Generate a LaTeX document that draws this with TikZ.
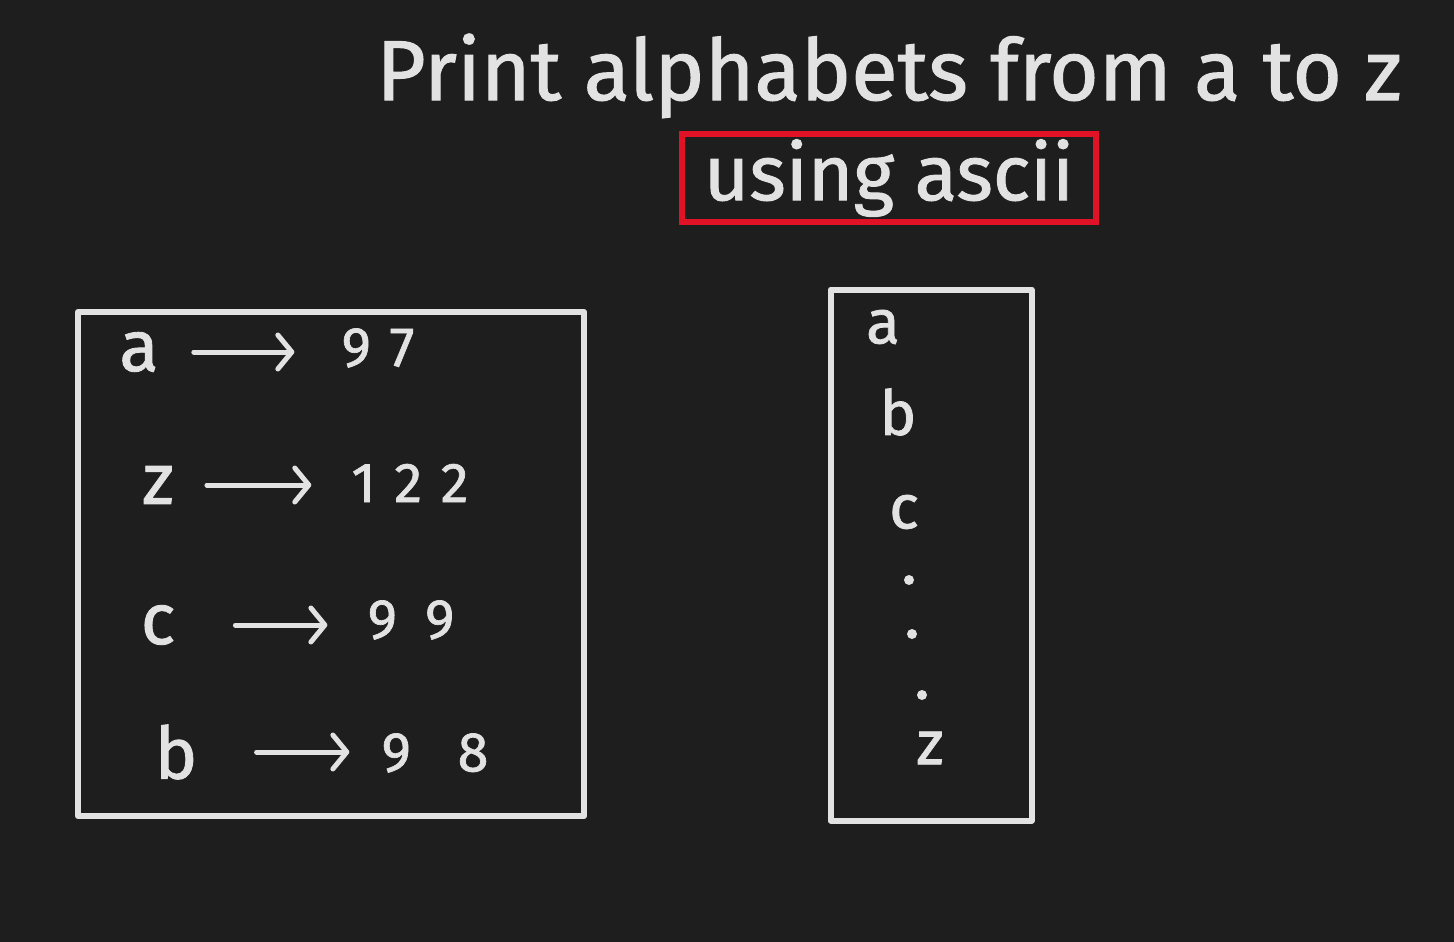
\documentclass[tikz,border=0pt]{standalone}
\usepackage{fontspec}
\setmainfont{Fira Sans}
\newfontfamily\chalkfont[FakeBold=1.2]{Fira Sans}
\usepackage{xcolor}
\usetikzlibrary{arrows.meta, positioning}
\definecolor{board}{RGB}{30,30,30}
\definecolor{chalk}{RGB}{226,226,226}
\definecolor{marker}{RGB}{226,18,38}

\begin{document}
\begin{tikzpicture}[x=1pt, y=-1pt,
   box/.style={draw=chalk, line width=6pt, line join=round, inner sep=0pt},
   letter/.style={text=chalk, font=\chalkfont\fontsize{72}{80}\selectfont, inner sep=0pt},
   small/.style={text=chalk, font=\chalkfont\fontsize{62}{70}\selectfont, inner sep=0pt},
   code/.style={text=chalk, font=\chalkfont\fontsize{56}{64}\selectfont, inner sep=0pt},
   dot/.style={circle, fill=chalk, minimum size=10pt, inner sep=0pt},
   map/.style={draw=chalk, line width=5pt, line cap=round,
      -{Straight Barb[length=14pt, width=34pt, round]}}]
   \fill[board] (0,0) rectangle (1454,942);
   \useasboundingbox (0,0) rectangle (1454,942);

   % heading
   \node[text=chalk, font=\chalkfont\fontsize{85}{92}\selectfont, inner sep=0pt, anchor=base] (title) at (889,100) {Print alphabets from a to z};
   \node[draw=marker, line width=6pt, text=chalk, font=\chalkfont\fontsize{78}{86}\selectfont,
      minimum width=414pt, minimum height=88pt, inner sep=0pt] (ascii) at (889,178) {using ascii};

   % left box: letter -> code
   \node[box, minimum width=506pt, minimum height=504pt] (table) at (331,564) {};
   \node[letter] (la) at (139,352) {a};
   \node[code] (na) at (378,348) {9\,\,7};
   \node[letter] (lz) at (158,485) {z};
   \node[code] (nz) at (410,483) {1\,\,2\,\,2};
   \node[letter] (lc) at (158,625) {c};
   \node[code] (nc) at (411,620) {9\,\,\,9};
   \node[letter] (lb) at (176,752) {b};
   \node[code] (nb) at (435,753) {9\,\,\,\,\,8};
   \draw[map, shorten <=35pt, shorten >=47pt] (la.east) -- (la.east -| na.west);
   \draw[map, shorten <=33pt, shorten >=40pt] (lz.east) -- (lz.east -| nz.west);
   \draw[map, shorten <=60pt, shorten >=40pt] (lc.east) -- (lc.east -| nc.west);
   \draw[map, shorten <=59pt, shorten >=32pt] (lb.east) -- (lb.east -| nb.west);

   % right box: a ... z
   \node[box, minimum width=201pt, minimum height=531pt] (list) at (931,555) {};
   \node[small] (ra) at (883,327) {a};
   \node[small] (rb) at (898,412) {b};
   \node[small] (rc) at (904,512) {c};
   \node[dot] (d1) at (909,580) {};
   \node[dot] (d2) at (912,634) {};
   \node[dot] (d3) at (922,695) {};
   \node[small] (rz) at (930,748) {z};
\end{tikzpicture}
\end{document}
